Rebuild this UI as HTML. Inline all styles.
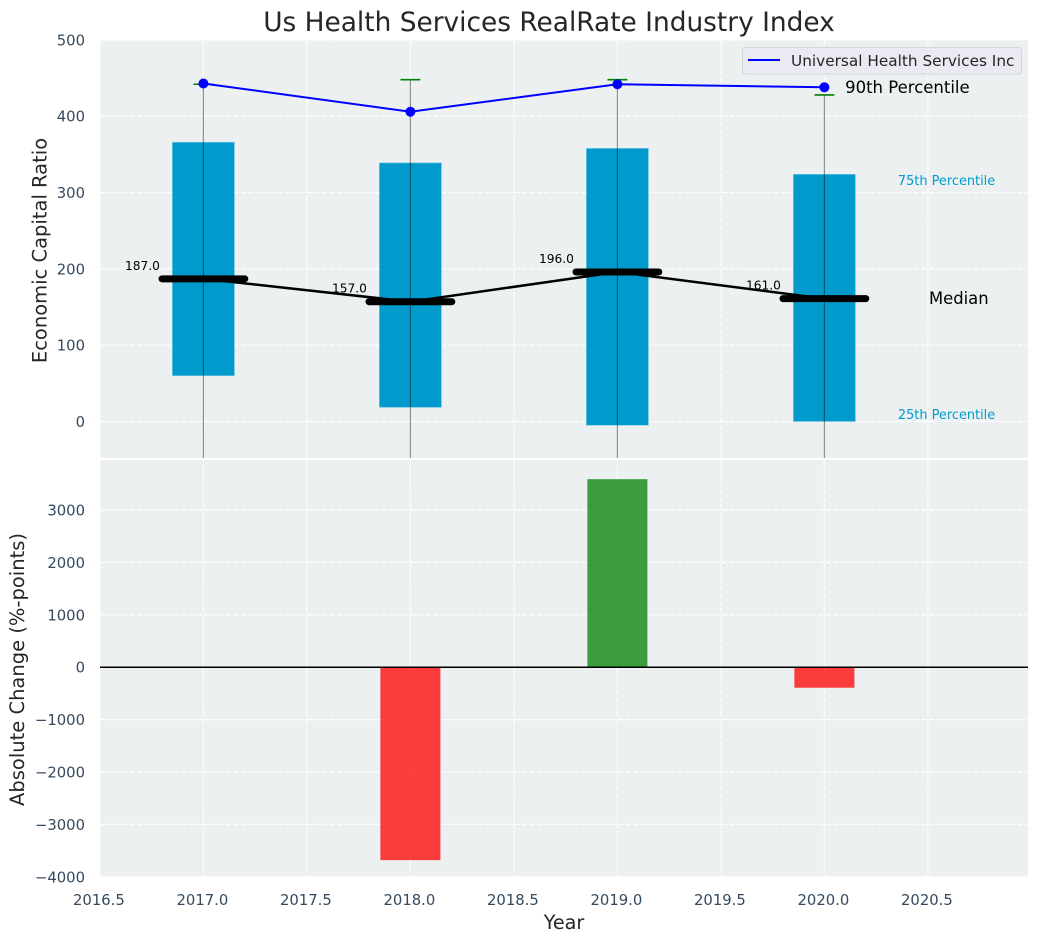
<!DOCTYPE html>
<html>
<head>
<meta charset="utf-8">
<title>Us Health Services RealRate Industry Index</title>
<style>
html,body{margin:0;padding:0;background:#fff;width:1039px;height:942px;overflow:hidden}
svg{display:block}
text{font-family:"DejaVu Sans","Liberation Sans",sans-serif}
</style>
</head>
<body>
<svg id="chart" xmlns="http://www.w3.org/2000/svg" width="1039" height="942" viewBox="0 0 1039 942"></svg>
<script>
const years = [2017, 2018, 2019, 2020];
const p25 = [60, 18.5, -5, 0];
const p75 = [366, 339, 358, 324];
const p90 = [442, 448, 448, 428];
const medians = [187, 157, 196, 161];
const company = [443, 406, 442, 438];
const changeYears = [2018, 2019, 2020];
const changes = [-3680, 3590, -390];
const xTicks = [2016.5, 2017, 2017.5, 2018, 2018.5, 2019, 2019.5, 2020, 2020.5];
const topTicks = [0, 100, 200, 300, 400, 500];
const bottomTicks = [-4000, -3000, -2000, -1000, 0, 1000, 2000, 3000];

const NS = 'http://www.w3.org/2000/svg';
const svg = document.getElementById('chart');
const L = 100, R = 1028, T1 = 40, B1 = 458, T2 = 460, B2 = 877;
const x = v => 203.4 + (v - 2017) * 207;
const yTop = v => 421.5 - v * 0.763;
const yBot = v => 667.3 - v * 0.0524;
const TICK = '#34495e';

function add(parent, tag, attrs, name, txt) {
  const el = document.createElementNS(NS, tag);
  for (const k in attrs) el.setAttribute(k, attrs[k]);
  
  
  if (txt !== undefined) el.textContent = txt;
  parent.appendChild(el);
  return el;
}
function label(s, px, py, size, fill, anchor, name, rot) {
  const a = {x: px, y: py, 'font-size': size, fill: fill, 'text-anchor': anchor || 'start'};
  if (rot) a.transform = 'rotate(-90 ' + px + ' ' + py + ')';
  return add(svg, 'text', a, name, s);
}

const defs = document.createElementNS(NS, 'defs');
defs.innerHTML = '<clipPath id="clipTop"><rect x="100" y="40" width="928" height="418"/></clipPath>' +
                 '<clipPath id="clipBot"><rect x="100" y="460" width="928" height="417"/></clipPath>';
svg.appendChild(defs);

/* panels */
add(svg, 'rect', {x: L, y: T1, width: R - L, height: B1 - T1, fill: '#ecf0f1'}, 'top-panel-background');
add(svg, 'rect', {x: L, y: T2, width: R - L, height: B2 - T2, fill: '#ecf0f1'}, 'bottom-panel-background');

const gridStyle = {stroke: '#ffffff', 'stroke-width': 1.2, 'stroke-dasharray': '5.5 1.9', fill: 'none'};

/* grid */
const gTop = add(svg, 'g', {'clip-path': 'url(#clipTop)'}, 'top-panel-plot');
const gBot = add(svg, 'g', {'clip-path': 'url(#clipBot)'}, 'bottom-panel-plot');
xTicks.forEach(t => {
  add(gTop, 'line', Object.assign({x1: x(t), x2: x(t), y1: T1, y2: B1}, gridStyle), 'top-vertical-gridline');
  add(gBot, 'line', Object.assign({x1: x(t), x2: x(t), y1: T2, y2: B2}, gridStyle), 'bottom-vertical-gridline');
});
topTicks.forEach(t => {
  add(gTop, 'line', Object.assign({x1: L, x2: R, y1: yTop(t), y2: yTop(t)}, gridStyle), 'top-horizontal-gridline');
});
bottomTicks.forEach(t => {
  add(gBot, 'line', Object.assign({x1: L, x2: R, y1: yBot(t), y2: yBot(t)}, gridStyle), 'bottom-horizontal-gridline');
});

/* percentile boxes */
years.forEach((yr, i) => {
  add(gTop, 'rect', {
    x: x(yr - 0.15), y: yTop(p75[i]),
    width: x(yr + 0.15) - x(yr - 0.15), height: yTop(p25[i]) - yTop(p75[i]),
    fill: '#009bcc', stroke: '#7fcce5', 'stroke-width': 0.6
  }, 'percentile-box-' + yr);
});

/* whiskers and caps */
years.forEach((yr, i) => {
  add(gTop, 'line', {x1: x(yr), x2: x(yr), y1: B1, y2: yTop(p90[i]), stroke: '#000', 'stroke-opacity': 0.42, 'stroke-width': 1.2}, 'whisker-' + yr);
  add(gTop, 'line', {x1: x(yr - 0.048), x2: x(yr + 0.048), y1: yTop(p90[i]), y2: yTop(p90[i]), stroke: '#008000', 'stroke-width': 1.6}, 'p90-cap-' + yr);
});

/* median connector and thick median bars */
add(gTop, 'polyline', {
  points: years.map((yr, i) => x(yr) + ',' + yTop(medians[i])).join(' '),
  fill: 'none', stroke: '#000', 'stroke-width': 2.5
}, 'median-line');
years.forEach((yr, i) => {
  add(gTop, 'line', {
    x1: x(yr - 0.2), x2: x(yr + 0.2), y1: yTop(medians[i]), y2: yTop(medians[i]),
    stroke: '#000', 'stroke-width': 7, 'stroke-linecap': 'round'
  }, 'median-bar-' + yr);
});

/* company series */
add(gTop, 'polyline', {
  points: years.map((yr, i) => x(yr) + ',' + yTop(company[i])).join(' '),
  fill: 'none', stroke: '#0000ff', 'stroke-width': 2
}, 'company-line');
years.forEach((yr, i) => {
  add(gTop, 'circle', {cx: x(yr), cy: yTop(company[i]), r: 5, fill: '#0000ff'}, 'company-point-' + yr);
});

/* change bars */
changeYears.forEach((yr, i) => {
  const v = changes[i];
  add(gBot, 'rect', {
    x: x(yr - 0.145), y: Math.min(yBot(v), yBot(0)),
    width: x(yr + 0.145) - x(yr - 0.145), height: Math.abs(yBot(v) - yBot(0)),
    fill: v < 0 ? '#ff0000' : '#008000', 'fill-opacity': 0.75
  }, 'change-bar-' + yr);
});
add(gBot, 'line', {x1: L, x2: R, y1: yBot(0), y2: yBot(0), stroke: '#000', 'stroke-width': 1.5}, 'zero-line');

/* median value labels */
years.forEach((yr, i) => {
  label(medians[i].toFixed(1), x(yr - 0.21), yTop(medians[i]) - 9, 12.2, '#000', 'end', 'median-value-' + yr);
});

/* percentile annotations */
label('90th Percentile', x(2020.1), yTop(438) + 5.5, 16.5, '#000', 'start', 'p90-annotation');
label('75th Percentile', x(2020.355), 185, 12.9, '#009bcc', 'start', 'p75-annotation');
label('Median', x(2020.51) - 1, yTop(161) + 5.5, 16.4, '#000', 'start', 'median-annotation');
label('25th Percentile', x(2020.355), 419, 12.9, '#009bcc', 'start', 'p25-annotation');

/* tick labels */
topTicks.forEach(t => {
  label(String(t), 85, yTop(t) + 5.4, 14.8, TICK, 'end', 'top-y-tick-label');
});
bottomTicks.forEach(t => {
  label(String(t).replace('-', '\u2212'), 85, yBot(t) + 5.4, 14.8, TICK, 'end', 'bottom-y-tick-label');
});
xTicks.forEach(t => {
  label(t.toFixed(1), x(t) - 1, 905, 14.8, TICK, 'middle', 'x-tick-label');
});

/* titles */
label('Us Health Services RealRate Industry Index', 549, 31, 26.4, '#262626', 'middle', 'chart-title');
label('Year', 564, 929, 19.2, '#262626', 'middle', 'x-axis-title');
label('Economic Capital Ratio', 46.5, 250.5, 19.5, '#262626', 'middle', 'top-y-axis-title', true);
label('Absolute Change (%-points)', 24, 669.5, 19.5, '#262626', 'middle', 'bottom-y-axis-title', true);

/* legend */
const lg = add(svg, 'g', {}, 'legend');
add(lg, 'rect', {x: 742.5, y: 47.5, width: 279, height: 26.5, rx: 3, fill: '#eaeaf2', stroke: '#d5d5da', 'stroke-width': 1}, 'legend-box');
add(lg, 'line', {x1: 748, x2: 780, y1: 60, y2: 60, stroke: '#0000ff', 'stroke-width': 2}, 'legend-line');
add(lg, 'text', {x: 791, y: 66, 'font-size': 15.3, fill: '#262626'}, 'legend-label', 'Universal Health Services Inc');
</script>
</body>
</html>
